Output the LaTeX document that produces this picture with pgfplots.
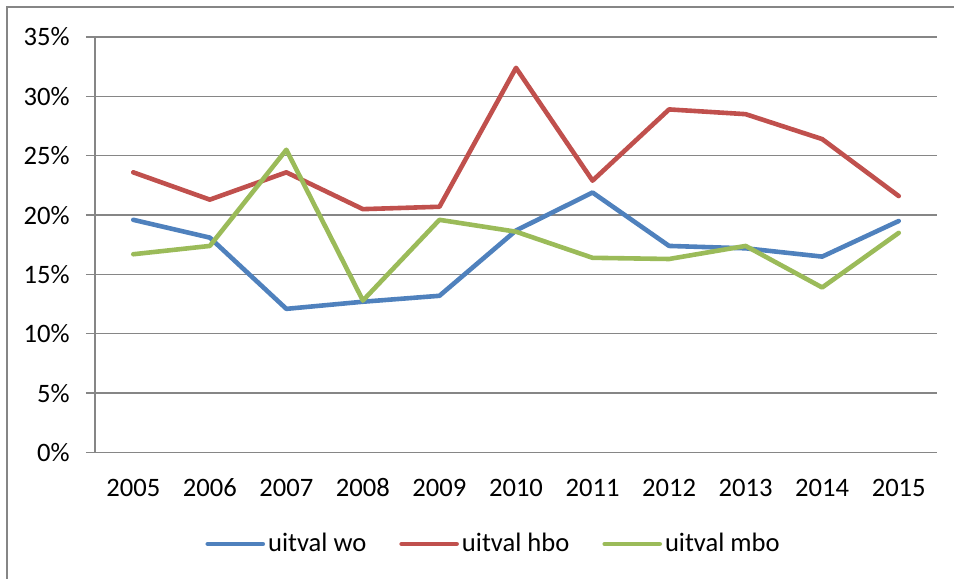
\documentclass[border=0pt]{standalone}
\usepackage{fontspec}
\setmainfont{Carlito}
\usepackage{pgfplots}
\pgfplotsset{compat=1.18}

\definecolor{exblue}{HTML}{4F81BD}
\definecolor{exred}{HTML}{C0504D}
\definecolor{exgreen}{HTML}{9BBB59}
\definecolor{exgray}{HTML}{868686}

% uitval per jaar (percent)
\pgfplotstableread{
x  wo    hbo   mbo
0  19.6  23.6  16.7
1  18.1  21.3  17.4
2  12.1  23.6  25.5
3  12.7  20.5  12.8
4  13.2  20.7  19.6
5  18.7  32.4  18.6
6  21.9  22.9  16.4
7  17.4  28.9  16.3
8  17.2  28.5  17.4
9  16.5  26.4  13.9
10 19.5  21.6  18.5
}\uitval

\begin{document}
\fontsize{13bp}{15bp}\selectfont
\begin{tikzpicture}
\useasboundingbox (0,0) rectangle (477bp,289.5bp);
\draw[exgray, line width=0.75bp] (3.5bp,0) -- (3.5bp,286bp) -- (477bp,286bp);
\begin{axis}[
    at={(47.5bp,63.25bp)}, anchor=south west,
    scale only axis,
    width=421bp, height=207.75bp,
    xmin=-0.5, xmax=10.5,
    ymin=0, ymax=35,
    axis x line=bottom, axis y line=left,
    axis line style={exgray, line width=0.7bp, -},
    xtick={0,...,10},
    xticklabels={2005,2006,2007,2008,2009,2010,2011,2012,2013,2014,2015},
    x tick style={draw=none},
    extra x ticks={-0.5,0.5,...,10.5},
    extra x tick labels={},
    extra x tick style={tick style={draw=exgray, line width=0.7bp}, major tick length=4bp, tick align=outside},
    ytick={0,5,...,35},
    yticklabels={0\%,5\%,10\%,15\%,20\%,25\%,30\%,35\%},
    y tick style={draw=exgray, line width=0.7bp},
    major tick length=4.5bp,
    tick align=outside,
    ymajorgrids,
    grid style={exgray, line width=0.7bp},
    xticklabel style={anchor=center, yshift=-13bp, inner sep=0pt},
    yticklabel style={anchor=east, inner sep=0pt, xshift=-8bp},
    tick label style={font=\fontsize{13.3bp}{15bp}\selectfont},
    legend columns=3,
    legend style={at={(0.474,-0.2202)}, anchor=center, draw=none, fill=none,
        font=\fontsize{13.3bp}{15bp}\selectfont,
        /tikz/every even column/.append style={column sep=15bp},
        nodes={inner sep=1.5bp}},
    legend image code/.code={\draw[#1] (0bp,0bp) -- (27.5bp,0bp);},
    every axis plot/.append style={line width=2.3bp, line cap=round, line join=round},
    clip=false,
]
\addplot[exblue] table[x=x, y=wo] {\uitval};
\addlegendentry{uitval wo}
\addplot[exred] table[x=x, y=hbo] {\uitval};
\addlegendentry{uitval hbo}
\addplot[exgreen] table[x=x, y=mbo] {\uitval};
\addlegendentry{uitval mbo}
\end{axis}
\end{tikzpicture}
\end{document}
